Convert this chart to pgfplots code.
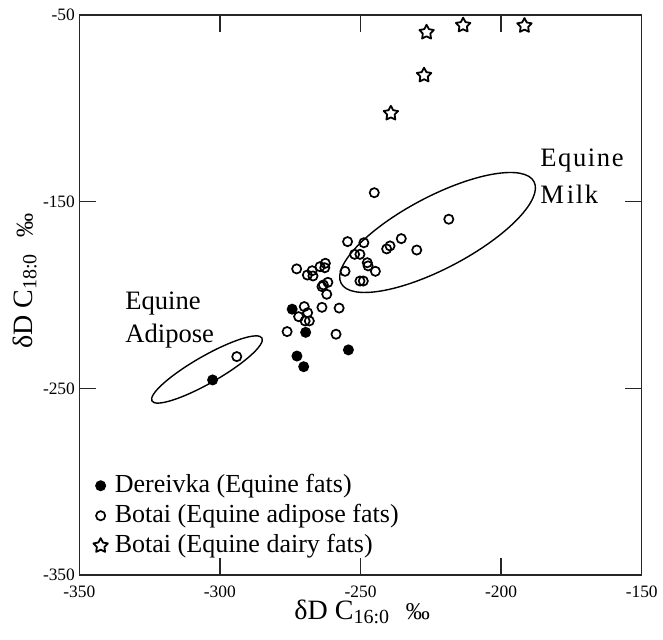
\documentclass[border=0pt]{standalone}
\usepackage{fontspec}
\setmainfont{Liberation Serif}
\usepackage{pgfplots}
\pgfplotsset{compat=1.18}
\usetikzlibrary{plotmarks,shapes.geometric}

\pgfdeclareplotmark{ostar}{%
  \pgfpathmoveto{\pgfpointpolar{90}{\pgfplotmarksize}}%
  \pgfpathlineto{\pgfpointpolar{126}{0.52\pgfplotmarksize}}%
  \pgfpathlineto{\pgfpointpolar{162}{\pgfplotmarksize}}%
  \pgfpathlineto{\pgfpointpolar{198}{0.52\pgfplotmarksize}}%
  \pgfpathlineto{\pgfpointpolar{234}{\pgfplotmarksize}}%
  \pgfpathlineto{\pgfpointpolar{270}{0.52\pgfplotmarksize}}%
  \pgfpathlineto{\pgfpointpolar{306}{\pgfplotmarksize}}%
  \pgfpathlineto{\pgfpointpolar{342}{0.52\pgfplotmarksize}}%
  \pgfpathlineto{\pgfpointpolar{18}{\pgfplotmarksize}}%
  \pgfpathlineto{\pgfpointpolar{54}{0.52\pgfplotmarksize}}%
  \pgfpathclose
  \pgfusepathqstroke
}

\begin{document}
\begin{tikzpicture}
\path[use as bounding box] (-39.65pt,-32pt) rectangle (291.85pt,287.5pt);
\begin{axis}[
  at={(0,0)}, anchor=south west,
  scale only axis, width=281.2pt, height=280pt,
  xmin=-350, xmax=-150, ymin=-350, ymax=-50,
  xtick={-350,-300,-250,-200,-150},
  ytick={-350,-250,-150,-50},
  tick align=inside, major tick length=8.5pt,
  axis line style={line width=0.65pt, black!85},
  every tick/.style={line width=0.7pt, black!85},
  /pgf/number format/assume math mode=true,
  ticklabel style={font=\fontsize{8.7}{10}\selectfont, inner sep=0pt},
  xticklabel style={yshift=-5.5pt},
  yticklabel style={xshift=-2pt},
  xlabel={δD C\raisebox{-0.3ex}{\fontsize{10}{10}\selectfont 16:0}\hspace{0.6em}{\fontsize{12}{12}\selectfont ‰}},
  ylabel={δD C\raisebox{-0.3ex}{\fontsize{10}{10}\selectfont 18:0}\hspace{0.6em}{\fontsize{12}{12}\selectfont ‰}},
  label style={font=\fontsize{14}{16}\selectfont, inner sep=0pt},
  xlabel style={at={(axis description cs:0.503,0)}, anchor=north, yshift=-12.5pt},
  ylabel style={at={(axis description cs:-0.075,0.525)}, anchor=south},
  legend style={draw=none, fill=none, at={(axis description cs:0.0244,0.186)}, anchor=north west,
    inner sep=0pt, font=\fontsize{13}{15}\selectfont,
    nodes={inner sep=1pt, text height=9.5pt, text depth=3pt},
    row sep=0.5pt, column sep=2.5pt},
  legend cell align=left,
  legend image code/.code={\draw[mark repeat=2,mark phase=2,#1] plot coordinates {(0pt,0pt)(3pt,0pt)(6pt,0pt)};},
]
\addplot[only marks, mark=*, mark size=2.3pt, line width=0.85pt, black, fill=black] coordinates {
(-274.3,-207.6) (-269.5,-220.0) (-272.6,-232.7) (-270.2,-238.4) (-254.3,-229.4) (-302.6,-245.5)
};
\addlegendentry{Dereivka (Equine fats)}
\addplot[only marks, mark=o, mark size=2.3pt, line width=0.85pt, black] coordinates {
(-245.1,-145.2) (-218.6,-159.4) (-254.6,-171.4) (-248.8,-172.0) (-235.5,-169.8)
(-239.5,-173.7) (-240.7,-175.3) (-230.0,-175.9) (-252.1,-178.2) (-250.2,-178.2)
(-247.6,-182.7) (-247.3,-184.4) (-244.7,-187.3) (-255.5,-187.3) (-249.0,-192.5)
(-250.2,-192.5) (-272.7,-186.0) (-268.9,-189.3) (-267.2,-187.0) (-266.9,-189.8)
(-264.4,-184.8) (-262.5,-183.0) (-262.7,-185.4) (-261.6,-193.2) (-263.7,-195.5)
(-263.2,-194.6) (-262.0,-199.6) (-263.7,-206.6) (-257.6,-207.0) (-270.0,-206.2)
(-268.8,-209.5) (-272.0,-211.6) (-269.7,-213.9) (-268.2,-213.9) (-276.1,-219.6)
(-258.7,-221.0) (-294.0,-233.0)
};
\addlegendentry{Botai (Equine adipose fats)}
\addplot[only marks, mark=ostar, mark size=3.8pt, line width=0.9pt, line join=round, black] coordinates {
(-226.5,-59.3) (-213.5,-55.5) (-191.7,-55.7) (-227.4,-82.3) (-239.2,-102.7)
};
\addlegendentry{Botai (Equine dairy fats)}

\node[draw, ellipse, rotate=27.8, minimum width=109pt, minimum height=36pt, inner sep=0pt, line width=0.7pt] at (axis cs:-222.6,-166.5) {};
\node[draw, ellipse, rotate=29.8, minimum width=63.4pt, minimum height=13.5pt, inner sep=0pt, line width=0.7pt] at (axis cs:-304.6,-239.9) {};

\node[anchor=base west, inner sep=0pt, font=\fontsize{13.3}{15}\selectfont] at (axis cs:-333.75,-208.0) {Equine};
\node[anchor=base west, inner sep=0pt, font=\fontsize{13.3}{15}\selectfont] at (axis cs:-333.75,-225.7) {Adipose};
\node[anchor=base west, inner sep=0pt, font=\fontsize{13.3}{15}\selectfont\addfontfeatures{LetterSpace=6}] at (axis cs:-186.2,-131.3) {Equine};
\node[anchor=base west, inner sep=0pt, font=\fontsize{13.3}{15}\selectfont\addfontfeatures{LetterSpace=6}] at (axis cs:-186.2,-150.9) {M\kern1.5pt ilk};
\end{axis}
\end{tikzpicture}
\end{document}
